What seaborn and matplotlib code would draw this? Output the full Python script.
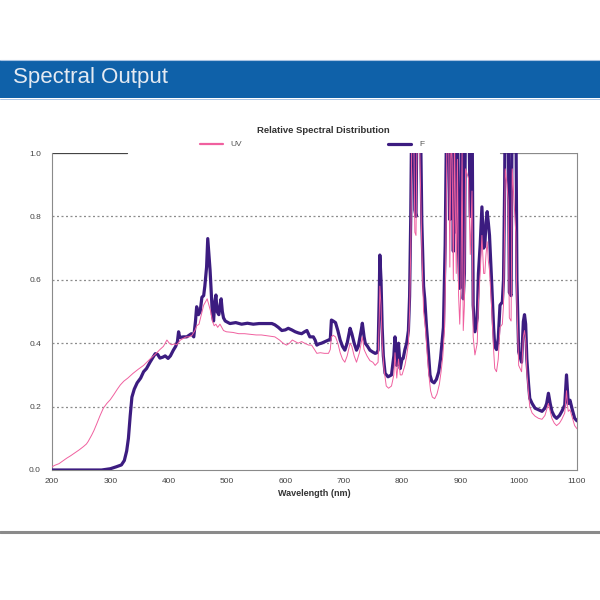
import matplotlib
matplotlib.use("Agg")
import matplotlib.pyplot as plt
import seaborn as sns
import pandas as pd
from matplotlib.patches import Rectangle
from matplotlib.lines import Line2D
from matplotlib.ticker import MultipleLocator

# ---------------- data ----------------
f_wavelength = [200, 250, 285, 300, 310, 319, 324, 328, 331, 334, 337, 341, 346, 352, 357, 362, 368, 373, 377, 381,
                385, 390, 394, 399, 403, 408, 412, 415, 417, 419, 425, 431, 435, 439, 443, 446, 448, 451, 454, 457,
                460, 462, 465, 467, 469, 471, 473, 475, 477, 479, 481, 483, 486, 488, 490, 492, 494, 497, 499, 505,
                515, 525, 535, 545, 555, 565, 577, 582, 588, 594, 600, 605, 611, 617, 623, 628, 633, 637, 642, 648,
                651, 654, 658, 662, 668, 674, 677, 679, 682, 686, 690, 694, 698, 702, 706, 711, 714, 718, 722, 725,
                727, 730, 732, 735, 737, 741, 745, 750, 754, 757, 759, 761, 762, 764, 766, 768, 771, 776, 782, 786,
                788, 791, 794, 797, 800, 802, 805, 808, 811, 813, 815, 817, 820, 822, 824, 826, 831, 834, 837, 839,
                842, 845, 848, 851, 855, 859, 863, 866, 868, 871, 874, 877, 880, 882, 884, 886, 888, 890, 893, 895,
                897, 899, 901, 903, 905, 907, 909, 914, 917, 920, 922, 925, 929, 931, 934, 937, 940, 942, 944, 946,
                948, 950, 954, 957, 959, 962, 965, 968, 972, 974, 976, 977, 982, 984, 987, 989, 995, 997, 1000, 1005,
                1008, 1010, 1012, 1014, 1017, 1019, 1023, 1028, 1034, 1040, 1045, 1048, 1051, 1054, 1057, 1061, 1065,
                1070, 1074, 1079, 1082, 1084, 1085, 1088, 1092, 1096, 1100]
f_values = [0.0, 0.0, 0.0, 0.004, 0.01, 0.016, 0.03, 0.06, 0.10, 0.17, 0.23, 0.255, 0.275, 0.29, 0.31, 0.32, 0.34, 0.355, 0.367, 0.365,
            0.353, 0.356, 0.36, 0.352, 0.36, 0.378, 0.39, 0.405, 0.436, 0.418, 0.42, 0.42, 0.425, 0.43, 0.42, 0.47, 0.515, 0.49, 0.50, 0.545,
            0.55, 0.58, 0.64, 0.73, 0.68, 0.63, 0.56, 0.49, 0.47, 0.53, 0.552, 0.50, 0.49, 0.52, 0.54, 0.50, 0.48, 0.47, 0.468, 0.462,
            0.465, 0.46, 0.463, 0.46, 0.462, 0.462, 0.462, 0.458, 0.45, 0.44, 0.442, 0.447, 0.442, 0.436, 0.432, 0.43, 0.436, 0.44, 0.42, 0.42,
            0.41, 0.394, 0.398, 0.40, 0.405, 0.41, 0.41, 0.473, 0.47, 0.465, 0.44, 0.41, 0.39, 0.378, 0.40, 0.447, 0.43, 0.40, 0.378, 0.39,
            0.41, 0.44, 0.463, 0.42, 0.40, 0.39, 0.378, 0.372, 0.368, 0.37, 0.378, 0.55, 0.678, 0.60, 0.45, 0.36, 0.305, 0.294, 0.30, 0.36,
            0.42, 0.33, 0.40, 0.32, 0.35, 0.352, 0.38, 0.40, 0.44, 0.547, 0.80, 1.2, 1.2, 0.82, 0.80, 1.2, 1.2, 0.78, 0.58, 0.54,
            0.45, 0.38, 0.30, 0.28, 0.275, 0.286, 0.31, 0.35, 0.39, 0.45, 0.71, 1.2, 1.2, 0.79, 1.2, 1.2, 0.69, 1.2, 0.75, 1.2,
            0.69, 0.573, 0.70, 1.2, 0.54, 0.62, 1.2, 1.2, 0.80, 1.2, 0.52, 0.436, 0.48, 0.62, 0.71, 0.83, 0.70, 0.71, 0.78, 0.815,
            0.78, 0.74, 0.58, 0.45, 0.39, 0.38, 0.415, 0.52, 0.53, 0.60, 0.9, 1.2, 1.2, 0.56, 0.55, 1.2, 1.2, 0.60, 0.373, 0.34,
            0.468, 0.49, 0.46, 0.35, 0.27, 0.226, 0.21, 0.195, 0.19, 0.185, 0.195, 0.21, 0.242, 0.21, 0.185, 0.17, 0.163,
            0.172, 0.185, 0.205, 0.30, 0.24, 0.21, 0.22, 0.19, 0.163, 0.155]

uv_wavelength = [200, 205, 212, 218, 225, 232, 240, 247, 254, 259, 262, 265, 268, 272, 277, 282, 288, 294, 300, 306,
                 312, 317, 323, 330, 339, 348, 357, 368, 377, 385, 391, 397, 401, 405, 410, 414, 420, 425, 430, 435,
                 440, 445, 448, 452, 456, 460, 463, 466, 469, 472, 475, 478, 481, 484, 488, 491, 494, 499, 510, 520,
                 530, 540, 550, 559, 570, 582, 590, 596, 602, 607, 612, 617, 622, 628, 633, 640, 645, 650, 654, 660,
                 667, 674, 677, 679, 682, 686, 690, 694, 698, 702, 706, 711, 714, 718, 722, 727, 732, 735, 740, 745,
                 750, 754, 759, 761, 762, 764, 766, 769, 773, 777, 782, 786, 788, 791, 794, 797, 800, 805, 808, 811,
                 813, 815, 817, 820, 822, 824, 826, 830, 834, 837, 840, 843, 846, 849, 852, 856, 860, 864, 867, 870,
                 873, 875, 877, 880, 882, 884, 886, 888, 890, 893, 895, 897, 899, 901, 903, 905, 907, 909, 914, 917,
                 920, 922, 925, 929, 931, 934, 937, 940, 942, 944, 946, 948, 950, 954, 957, 959, 962, 965, 968, 972,
                 974, 976, 977, 980, 982, 984, 987, 989, 992, 995, 997, 1000, 1005, 1008, 1010, 1012, 1014, 1017, 1019,
                 1023, 1028, 1034, 1040, 1045, 1048, 1051, 1054, 1057, 1061, 1065, 1070, 1074, 1079, 1082, 1084, 1085,
                 1088, 1092, 1096, 1100]
uv_values = [0.01, 0.015, 0.02, 0.028, 0.037, 0.045, 0.055, 0.064, 0.074, 0.082, 0.09, 0.10, 0.11, 0.125, 0.147, 0.17, 0.195, 0.21, 0.222, 0.238,
             0.255, 0.268, 0.28, 0.29, 0.305, 0.318, 0.33, 0.35, 0.365, 0.38, 0.39, 0.41, 0.40, 0.395, 0.398, 0.395, 0.41, 0.415, 0.42, 0.42,
             0.425, 0.44, 0.455, 0.46, 0.49, 0.52, 0.53, 0.54, 0.52, 0.50, 0.47, 0.455, 0.46, 0.45, 0.46, 0.45, 0.44, 0.436, 0.434, 0.43,
             0.43, 0.428, 0.426, 0.426, 0.423, 0.42, 0.41, 0.40, 0.394, 0.40, 0.41, 0.405, 0.40, 0.405, 0.40, 0.394, 0.394, 0.38, 0.368, 0.37,
             0.368, 0.368, 0.38, 0.42, 0.425, 0.42, 0.40, 0.37, 0.35, 0.34, 0.36, 0.40, 0.39, 0.36, 0.34, 0.37, 0.42, 0.38, 0.36, 0.345,
             0.34, 0.33, 0.34, 0.48, 0.58, 0.52, 0.40, 0.32, 0.265, 0.258, 0.265, 0.30, 0.37, 0.29, 0.35, 0.30, 0.30, 0.33, 0.36, 0.40,
             0.50, 0.70, 1.1, 1.1, 0.75, 0.74, 1.1, 1.05, 0.70, 0.50, 0.45, 0.37, 0.30, 0.25, 0.23, 0.225, 0.24, 0.27, 0.31, 0.36,
             0.45, 0.66, 1.05, 1.05, 0.64, 1.05, 0.98, 0.60, 1.05, 0.62, 0.98, 0.55, 0.46, 0.58, 1.0, 0.44, 0.52, 0.95, 0.92, 0.68,
             0.88, 0.42, 0.363, 0.40, 0.53, 0.62, 0.74, 0.62, 0.62, 0.68, 0.72, 0.66, 0.63, 0.50, 0.38, 0.32, 0.31, 0.35, 0.45, 0.46,
             0.52, 0.78, 0.95, 0.90, 0.85, 0.48, 0.47, 0.95, 0.85, 0.75, 0.52, 0.33, 0.31, 0.42, 0.44, 0.41, 0.31, 0.24, 0.2,
             0.18, 0.17, 0.163, 0.16, 0.172, 0.19, 0.21, 0.185, 0.163, 0.148, 0.14, 0.148, 0.16, 0.18, 0.25, 0.2, 0.185,
             0.19, 0.165, 0.14, 0.13]

series_labels = ["UV", "F"]
chart_title = "Relative Spectral Distribution"
page_title = "Spectral Output"
x_label = "Wavelength (nm)"

# ---------------- style ----------------
sns.set_style("white")
plt.rcParams["font.family"] = ["Liberation Sans", "DejaVu Sans"]

UV_COLOR = "#f0609f"
F_COLOR = "#3c1c80"

fig = plt.figure(figsize=(6, 6), dpi=100)
fig.patch.set_facecolor("white")

# banner
fig.patches.append(Rectangle((0, 1 - 98 / 600), 1, 38 / 600, transform=fig.transFigure,
                             facecolor="#0f61a9", edgecolor="none", zorder=0))
fig.add_artist(Line2D([0, 1], [1 - 59.5 / 600] * 2, transform=fig.transFigure, color="#a8c3e2", lw=0.8))
fig.add_artist(Line2D([0, 1], [1 - 98.5 / 600] * 2, transform=fig.transFigure, color="#9dbbe0", lw=0.6))
fig.text(13 / 600, 1 - 77 / 600, page_title, color="#e4eaf2", fontsize=16, va="center", ha="left",
         family=["Liberation Sans", "DejaVu Sans"])

# bottom rule
fig.add_artist(Line2D([0, 1], [1 - 532 / 600] * 2, transform=fig.transFigure, color="#8a8a8a", lw=2.2))

ax = fig.add_axes([52 / 600, 1 - 470 / 600, 525 / 600, 317 / 600])

df_f = pd.DataFrame({"Wavelength": f_wavelength, "Value": f_values})
df_uv = pd.DataFrame({"Wavelength": uv_wavelength, "Value": uv_values})

sns.lineplot(data=df_f, x="Wavelength", y="Value", ax=ax, color=F_COLOR, linewidth=2.3,
             sort=False, estimator=None, label=series_labels[1], zorder=3)
sns.lineplot(data=df_uv, x="Wavelength", y="Value", ax=ax, color=UV_COLOR, linewidth=0.7,
             sort=False, estimator=None, label=series_labels[0], zorder=4)
if ax.get_legend() is not None:
    ax.get_legend().remove()

ax.set_xlim(200, 1100)
ax.set_ylim(0, 1.0)
ax.xaxis.set_major_locator(MultipleLocator(100))
ax.xaxis.set_minor_locator(MultipleLocator(10))
ax.set_yticks([0.0, 0.2, 0.4, 0.6, 0.8, 1.0])
ax.set_yticklabels(["0.0", "0.2", "0.4", "0.6", "0.8", "1.0"])

for yv in [0.2, 0.4, 0.6, 0.8]:
    ax.axhline(yv, color="#8c8c8c", lw=0.9, ls=(0, (1.6, 2.0)), zorder=1)

ax.tick_params(axis="x", which="major", direction="in", length=3.5, width=0.6, color="#666666",
               labelsize=6, labelcolor="#444444", pad=6)
ax.tick_params(axis="x", which="minor", direction="in", length=2, width=0.5, color="#888888")
ax.tick_params(axis="y", which="major", length=0, labelsize=6, labelcolor="#444444", pad=8)

ax.set_xlabel(x_label, fontsize=6.5, fontweight="bold", color="#333333", labelpad=3)
ax.set_ylabel("")

for side in ["left", "right", "bottom"]:
    ax.spines[side].set_color("#8a8a8a")
    ax.spines[side].set_linewidth(0.8)
ax.spines["top"].set_visible(False)
# visible pieces of the top frame (the legend block hides the middle)
ax.axhline(1.0, 0.0, 0.143, color="#444444", lw=0.9, zorder=2)
ax.axhline(1.0, 0.853, 1.0, color="#8a8a8a", lw=0.9, zorder=2)

fig.text(323 / 600, 1 - 130.5 / 600, chart_title, fontsize=6.8, fontweight="bold",
         color="#333333", ha="center", va="center")

handles = [Line2D([], [], color=UV_COLOR, lw=1.6), Line2D([], [], color=F_COLOR, lw=2.3)]
fig.legend(handles, series_labels, loc="center left", bbox_to_anchor=(200 / 600, 1 - 144.5 / 600),
           ncol=2, frameon=False, fontsize=6, labelcolor="#555555", borderpad=0, borderaxespad=0,
           handlelength=2.7, handletextpad=1.0, columnspacing=17.5)

fig.savefig("out.png", dpi=100, facecolor="white")
